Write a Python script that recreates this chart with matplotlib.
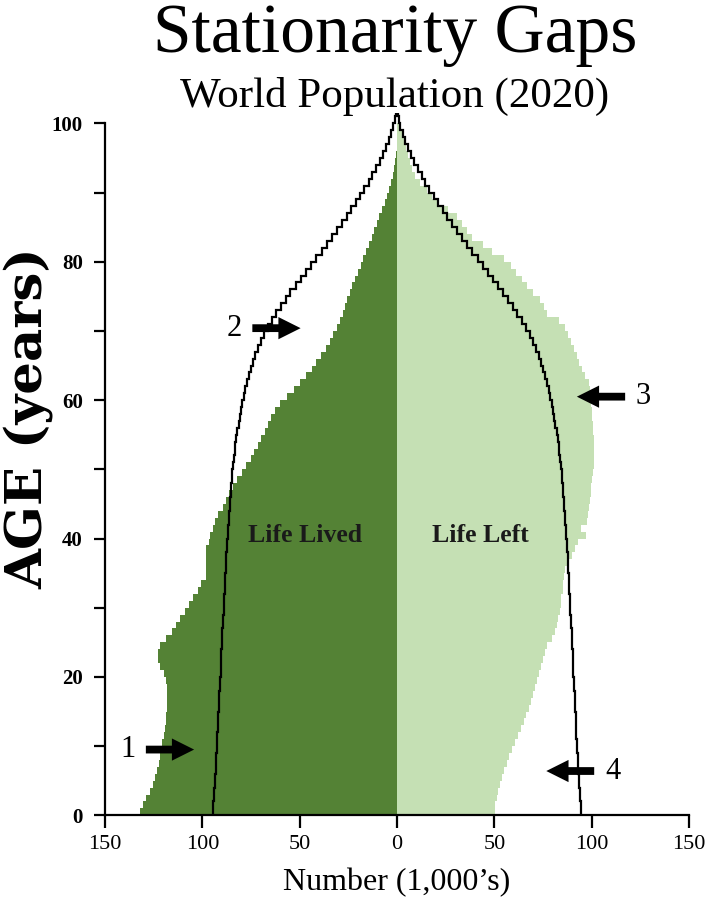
import numpy as np
import matplotlib
matplotlib.use("Agg")
import matplotlib.pyplot as plt
from matplotlib.patches import FancyArrowPatch
from matplotlib.ticker import FuncFormatter

# ---------------- data (thousands, by single year of age) ----------------
ages = np.arange(0, 101)

life_lived = [132.1, 130.4, 128.7, 127.0, 125.4, 124.4, 123.2, 122.3, 121.8, 121.2,
              120.5, 119.8, 119.3, 118.8, 118.5, 118.3, 118.3, 118.3, 118.3, 118.5,
              119.5, 121.5, 122.8, 122.8, 121.5, 118.5, 115.6, 113.3, 111.3, 108.7,
              107.0, 104.8, 102.4, 100.7, 98.3, 98.1, 98.1, 98.1, 97.9, 96.8,
              95.9, 94.5, 93.3, 92.1, 89.4, 87.7, 86.5, 84.4, 82.2, 79.6,
              77.5, 75.0, 73.3, 71.5, 69.8, 68.0, 66.3, 64.5, 62.6, 60.0,
              56.5, 52.8, 49.6, 46.5, 43.8, 41.5, 38.8, 36.3, 34.4, 32.7,
              30.9, 29.2, 27.8, 26.7, 25.5, 24.3, 23.0, 21.5, 19.8, 18.6,
              17.3, 15.9, 14.2, 13.0, 11.8, 10.4, 9.1, 7.5, 6.2, 5.0,
              3.9, 3.1, 2.2, 1.5, 0.9, 0.4, 0.2, 0.1, 0.0, 0.0, 0.0]

life_left = [50.3, 50.5, 51.5, 52.0, 53.0, 54.0, 54.8, 56.5, 57.5, 59.0,
             60.5, 62.0, 63.5, 65.0, 66.5, 68.0, 69.0, 70.0, 71.0, 72.0,
             73.0, 74.0, 75.0, 76.0, 77.0, 79.5, 81.0, 82.0, 82.8, 83.6,
             84.0, 84.5, 85.3, 85.5, 86.0, 86.5, 88.5, 89.8, 91.3, 93.0,
             97.0, 94.5, 97.5, 98.0, 98.5, 99.0, 99.5, 99.8, 100.0, 100.5,
             101.0, 101.2, 101.2, 101.2, 101.0, 100.8, 100.6, 100.3, 100.0, 99.8,
             99.5, 99.0, 98.5, 96.5, 95.0, 93.5, 92.5, 91.0, 89.5, 88.0,
             86.5, 83.0, 77.0, 75.5, 73.5, 70.0, 67.0, 64.0, 61.0, 58.5,
             55.0, 49.0, 44.0, 38.5, 36.0, 33.5, 31.0, 26.0, 21.0, 18.0,
             15.5, 12.0, 9.5, 7.5, 6.5, 5.5, 4.5, 3.5, 2.5, 1.5, 0.8]

# stationary (life-table) population, ages 0..101
stationary = [94.7, 94.3, 94.0, 93.8, 93.6, 93.4, 93.2, 93.0, 92.8, 92.6,
              92.4, 92.2, 92.0, 91.9, 91.7, 91.5, 91.4, 91.2, 91.0, 90.8,
              90.6, 90.5, 90.3, 90.2, 90.1, 89.9, 89.7, 89.5, 89.3, 89.1,
              88.9, 88.7, 88.6, 88.4, 88.2, 88.0, 87.8, 87.6, 87.4, 87.2,
              87.0, 86.8, 86.5, 86.3, 86.0, 85.8, 85.5, 85.2, 84.9, 84.6,
              84.2, 83.8, 83.4, 83.0, 82.5, 82.0, 81.4, 80.8, 80.2, 79.5,
              78.7, 77.9, 77.0, 76.0, 75.0, 73.9, 72.7, 71.3, 69.8, 68.1,
              66.2, 64.1, 61.9, 59.6, 57.2, 54.7, 52.1, 49.5, 46.9, 44.2,
              41.5, 38.7, 36.0, 33.3, 30.7, 28.2, 25.8, 23.4, 21.1, 18.9,
              16.7, 14.6, 12.6, 10.7, 8.9, 7.2, 5.6, 4.2, 2.9, 1.8,
              0.9, 0.3]

x_ticks = [-150, -100, -50, 0, 50, 100, 150]
y_ticks = [0, 20, 40, 60, 80, 100]
y_minor = [10, 30, 50, 70, 90]

title = "Stationarity Gaps"
subtitle = "World Population (2020)"
x_label = "Number (1,000\u2019s)"
y_label = "AGE (years)"

DARK = "#548235"
LIGHT = "#C5E0B4"
SERIF = ["Liberation Serif", "DejaVu Serif"]

# ---------------- figure ----------------
plt.rcParams["font.family"] = SERIF
fig = plt.figure(figsize=(7.05, 8.99), dpi=100)
ax = fig.add_axes([0.1489, 0.0931, 0.8284, 0.7697])

edges = np.arange(0, len(ages) + 1)
ax.stairs(-np.array(life_lived), edges, orientation="horizontal", fill=True,
          baseline=0, color=DARK, linewidth=0)
ax.stairs(np.array(life_left), edges, orientation="horizontal", fill=True,
          baseline=0, color=LIGHT, linewidth=0)

st = np.array(stationary)
st_edges = np.append(np.arange(0, len(st)), len(st) - 0.5)
ax.stairs(-st, st_edges, orientation="horizontal", baseline=None,
          color="black", linewidth=1.6, clip_on=False)
ax.stairs(st, st_edges, orientation="horizontal", baseline=None,
          color="black", linewidth=1.6, clip_on=False)

ax.set_xlim(-150, 150)
ax.set_ylim(0, 100)
ax.spines["top"].set_visible(False)
ax.spines["right"].set_visible(False)
ax.spines["left"].set_linewidth(1.6)
ax.spines["bottom"].set_linewidth(1.6)

ax.set_xticks(x_ticks)
ax.xaxis.set_major_formatter(FuncFormatter(lambda v, p: f"{abs(int(v))}"))
ax.set_yticks(y_ticks)
ax.set_yticks(y_minor, minor=True)
ax.tick_params(axis="x", direction="out", length=9, width=1.6, labelsize=16, pad=5)
ax.tick_params(axis="y", which="both", direction="out", length=8, width=1.6,
               labelsize=15, pad=8)
for lab in ax.get_yticklabels():
    lab.set_fontweight("bold")

fig.text(397 / 705, 1 - 883 / 899, x_label, ha="center", va="center", fontsize=23)
fig.text(28 / 705, 1 - 418 / 899, y_label, ha="center", va="center", rotation=90,
         fontsize=37, fontweight="bold", family=["DejaVu Serif"])

fig.text(0.56, 0.942, title, ha="center", va="baseline", fontsize=50)
fig.text(0.56, 0.881, subtitle, ha="center", va="baseline", fontsize=31)

ax.text(-47, 40.5, "Life Lived", ha="center", va="center", fontsize=18.5, fontweight="bold",
        color="#1a1a1a")
ax.text(43, 40.5, "Life Left", ha="center", va="center", fontsize=18.5, fontweight="bold",
        color="#1a1a1a")

# numbered arrows
arrows = [("1", -138.4, -129.0, -104.2, 9.5),
          ("2", -83.7, -74.3, -49.5, 70.4),
          ("3", 126.6, 117.2, 92.4, 60.5),
          ("4", 111.2, 101.3, 76.7, 6.4)]
for lab, tx, x0, x1, yy in arrows:
    ax.text(tx, yy, lab, ha="center", va="center", fontsize=22)
    ax.add_patch(FancyArrowPatch((x0, yy), (x1, yy),
                                 arrowstyle="simple,head_length=0.8,head_width=0.8,tail_width=0.28",
                                 mutation_scale=20, color="black", shrinkA=0, shrinkB=0,
                                 linewidth=0))

fig.savefig("out.png", dpi=100)
